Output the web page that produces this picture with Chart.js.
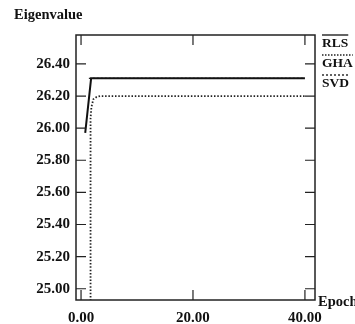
<!DOCTYPE html>
<html>
<head>
<meta charset="utf-8">
<script src="https://cdn.jsdelivr.net/npm/chart.js@4.4.0/dist/chart.umd.min.js"></script>
<style>
  html, body { margin: 0; padding: 0; background: #fff; }
  #wrap { width: 355px; height: 324px; }
</style>
</head>
<body>
<div id="wrap"><canvas id="eigenChart" width="355" height="324"></canvas></div>
<script>
// values
const rlsEpochs = [0.75, 1.8, 40];
const rlsValues = [25.97, 26.31, 26.31];
const ghaEpochs = [1.7, 1.7, 1.85, 2.2, 2.8, 3.4, 40];
const ghaValues = [24.0, 26.06, 26.13, 26.18, 26.195, 26.20, 26.20];
const svdEpochs = [1.4, 40];
const svdValues = [26.31, 26.31];
const xTicks = [0, 20, 40];
const yTicks = [25.0, 25.2, 25.4, 25.6, 25.8, 26.0, 26.2, 26.4];
const legendNames = ['RLS', 'GHA', 'SVD'];

const serif = '"Liberation Serif", "DejaVu Serif", serif';

function points(xs, ys) {
    return xs.map((x, i) => ({ x: x, y: ys[i] }));
}

// box, inner ticks, titles and the overlined legend
const decorPlugin = {
    id: 'decor',
    afterDraw(chart) {
        const ctx = chart.ctx;
        const a = chart.chartArea;
        const xs = chart.scales.x;
        const ys = chart.scales.y;
        ctx.save();
        ctx.strokeStyle = '#222';
        ctx.lineWidth = 1.5;
        ctx.strokeRect(a.left, a.top, a.right - a.left, a.bottom - a.top);

        ctx.lineWidth = 1.2;
        ctx.beginPath();
        xTicks.forEach(v => {
            const px = xs.getPixelForValue(v);
            ctx.moveTo(px, a.bottom); ctx.lineTo(px, a.bottom - 10);
            ctx.moveTo(px, a.top); ctx.lineTo(px, a.top + 10);
        });
        yTicks.forEach(v => {
            const py = ys.getPixelForValue(v);
            ctx.moveTo(a.left, py); ctx.lineTo(a.left + 10, py);
            ctx.moveTo(a.right, py); ctx.lineTo(a.right - 10, py);
        });
        ctx.stroke();

        ctx.fillStyle = '#111';
        ctx.font = 'bold 14.5px ' + serif;
        ctx.textAlign = 'left';
        ctx.textBaseline = 'middle';
        ctx.fillText('Eigenvalue', 14, 15);
        ctx.fillText('Epoch', a.right + 3, a.bottom + 2);

        // legend
        ctx.font = 'bold 13.5px ' + serif;
        ctx.textBaseline = 'alphabetic';
        const dashes = [[], [1.5, 1.5], [2, 2]];
        legendNames.forEach((name, i) => {
            const baseY = 47 + i * 20;
            const w = ctx.measureText(name).width;
            ctx.fillText(name, 322, baseY);
            ctx.setLineDash(dashes[i]);
            ctx.lineWidth = 1.4;
            ctx.beginPath();
            ctx.moveTo(322, baseY - 12);
            ctx.lineTo(322 + w, baseY - 12);
            ctx.stroke();
        });
        ctx.restore();
    }
};

const ctx = document.getElementById('eigenChart').getContext('2d');
new Chart(ctx, {
    type: 'line',
    data: {
        datasets: [
            {
                label: 'SVD',
                data: points(svdEpochs, svdValues),
                borderColor: '#222',
                borderWidth: 1.3,
                borderDash: [2, 2],
                pointRadius: 0,
                order: 3
            },
            {
                label: 'GHA',
                data: points(ghaEpochs, ghaValues),
                borderColor: '#222',
                borderWidth: 1.8,
                borderDash: [1.5, 1.8],
                pointRadius: 0,
                order: 2
            },
            {
                label: 'RLS',
                data: points(rlsEpochs, rlsValues),
                borderColor: '#111',
                borderWidth: 2,
                pointRadius: 0,
                order: 1
            }
        ]
    },
    options: {
        responsive: false,
        animation: false,
        layout: { padding: { top: 35, right: 40, left: 0, bottom: 0 } },
        plugins: { legend: { display: false }, tooltip: { enabled: false } },
        scales: {
            x: {
                type: 'linear',
                min: -0.9,
                max: 41.8,
                afterBuildTicks: axis => { axis.ticks = xTicks.map(v => ({ value: v })); },
                afterFit: axis => { axis.height = 24; },
                grid: { display: false, drawTicks: false },
                border: { display: false },
                ticks: {
                    padding: 9,
                    color: '#111',
                    maxRotation: 0,
                    font: { family: serif, size: 15, weight: 'bold' },
                    callback: v => Number(v).toFixed(2)
                }
            },
            y: {
                type: 'linear',
                min: 24.93,
                max: 26.58,
                afterBuildTicks: axis => { axis.ticks = yTicks.map(v => ({ value: v })); },
                afterFit: axis => { axis.width = 76; },
                grid: { display: false, drawTicks: false },
                border: { display: false },
                ticks: {
                    padding: 6,
                    color: '#111',
                    font: { family: serif, size: 15, weight: 'bold' },
                    callback: v => Number(v).toFixed(2)
                }
            }
        }
    },
    plugins: [decorPlugin]
});
</script>
</body>
</html>
